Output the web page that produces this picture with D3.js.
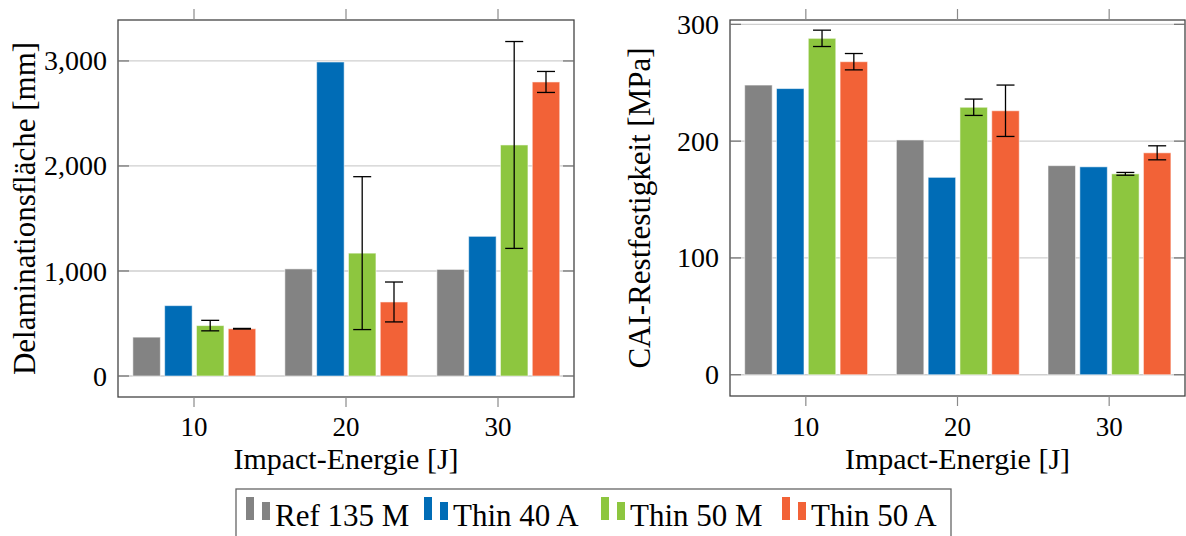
<!DOCTYPE html>
<html>
<head>
<meta charset="utf-8">
<script src="https://cdn.jsdelivr.net/npm/d3@7"></script>
<style>
  html, body { margin: 0; padding: 0; background: #fff; }
  svg { display: block; }
  text { font-family: "Liberation Serif", "DejaVu Serif", serif; fill: #000; }
</style>
</head>
<body>
<svg id="chart" width="1186" height="536"></svg>
<script>
// ---- data ----
const categories = [10, 20, 30];
const seriesNames = ["Ref 135 M", "Thin 40 A", "Thin 50 M", "Thin 50 A"];
const seriesColors = ["#838383", "#006cb6", "#8dc63f", "#f26237"];

// Delaminationsfläche [mm]
const delamRef135M  = [370, 1020, 1015];
const delamThin40A  = [670, 2990, 1330];
const delamThin50M  = [480, 1170, 2200];
const delamThin50A  = [450, 705, 2800];
const delamErrThin50M = [50, 728, 985];
const delamErrThin50A = [3, 190, 100];

// CAI-Restfestigkeit [MPa]
const caiRef135M  = [248, 201, 179];
const caiThin40A  = [245, 169, 178];
const caiThin50M  = [288, 229, 172];
const caiThin50A  = [268, 226, 190];
const caiErrThin50M = [7, 7, 1.2];
const caiErrThin50A = [7, 22, 6];

const delamTicks = [0, 1000, 2000, 3000];
const caiTicks = [0, 100, 200, 300];
const xLabel = "Impact-Energie [J]";

// ---- drawing ----
const svg = d3.select("#chart");
const fmt = d3.format(",");

function panel(opt) {
  const g = svg.append("g");
  const x = d3.scaleLinear().domain([5, 35]).range([opt.x0, opt.x1]);
  const y = d3.scaleLinear().domain(opt.yDomain).range([opt.y1, opt.y0]);
  const step = 31.8, bw = 27.5;

  // grid
  g.append("g").selectAll("line").data(opt.yTicks).join("line")
    .attr("x1", opt.x0).attr("x2", opt.x1)
    .attr("y1", d => y(d)).attr("y2", d => y(d))
    .attr("stroke", "#cfcfcf").attr("stroke-width", 1.3);

  // bars
  opt.series.forEach((vals, si) => {
    g.append("g").selectAll("rect").data(vals).join("rect")
      .attr("x", (d, i) => x(categories[i]) + (si - 1.5) * step + 0.3 - bw / 2)
      .attr("width", bw)
      .attr("y", d => y(d))
      .attr("height", d => y(0) - y(d))
      .attr("fill", seriesColors[si])
      .attr("stroke", "rgba(255,255,255,0.55)")
      .attr("stroke-width", 1);
  });

  // error bars
  opt.errors.forEach(e => {
    const si = e.series;
    const vals = opt.series[si];
    const eg = g.append("g").attr("stroke", "#000").attr("stroke-width", 1.3);
    e.err.forEach((er, i) => {
      const cx = x(categories[i]) + (si - 1.5) * step + 0.3;
      const v = vals[i];
      eg.append("line").attr("x1", cx).attr("x2", cx).attr("y1", y(v + er)).attr("y2", y(v - er));
      eg.append("line").attr("x1", cx - 9).attr("x2", cx + 9).attr("y1", y(v + er)).attr("y2", y(v + er));
      eg.append("line").attr("x1", cx - 9).attr("x2", cx + 9).attr("y1", y(v - er)).attr("y2", y(v - er));
    });
  });

  // frame
  g.append("rect")
    .attr("x", opt.x0).attr("y", opt.y0)
    .attr("width", opt.x1 - opt.x0).attr("height", opt.y1 - opt.y0)
    .attr("fill", "none").attr("stroke", "#444").attr("stroke-width", 1.3);

  // x ticks (outside, top & bottom)
  const xt = g.append("g").attr("stroke", "#8a8a8a").attr("stroke-width", 1.2);
  categories.forEach(c => {
    xt.append("line").attr("x1", x(c)).attr("x2", x(c)).attr("y1", opt.y0).attr("y2", opt.y0 - 11);
    xt.append("line").attr("x1", x(c)).attr("x2", x(c)).attr("y1", opt.y1).attr("y2", opt.y1 + 10);
  });
  // y ticks (inside, left & right)
  const yt = g.append("g").attr("stroke", "#707070").attr("stroke-width", 1.2);
  opt.yTicks.forEach(t => {
    yt.append("line").attr("x1", opt.x0).attr("x2", opt.x0 + 11).attr("y1", y(t)).attr("y2", y(t));
    yt.append("line").attr("x1", opt.x1).attr("x2", opt.x1 - 11).attr("y1", y(t)).attr("y2", y(t));
  });

  // tick labels
  g.append("g").selectAll("text").data(categories).join("text")
    .attr("x", d => x(d)).attr("y", 436)
    .attr("text-anchor", "middle").attr("font-size", 27)
    .text(d => d);
  g.append("g").selectAll("text").data(opt.yTicks).join("text")
    .attr("x", opt.x0 - 11).attr("y", d => y(d)).attr("dy", "0.34em")
    .attr("text-anchor", "end").attr("font-size", 28)
    .text(d => fmt(d));

  // axis labels
  g.append("text")
    .attr("x", (opt.x0 + opt.x1) / 2).attr("y", 469)
    .attr("text-anchor", "middle").attr("font-size", 30)
    .text(xLabel);
  g.append("text")
    .attr("transform", `translate(${opt.ylx},${(opt.y0 + opt.y1) / 2}) rotate(-90)`)
    .attr("text-anchor", "middle").attr("font-size", 31)
    .text(opt.yLabel);
}

panel({
  x0: 118, x1: 574, y0: 20, y1: 397,
  yDomain: [-200, 3390], yTicks: delamTicks,
  series: [delamRef135M, delamThin40A, delamThin50M, delamThin50A],
  errors: [{ series: 2, err: delamErrThin50M }, { series: 3, err: delamErrThin50A }],
  yLabel: "Delaminationsfläche [mm]", ylx: 35
});

panel({
  x0: 730, x1: 1185, y0: 20, y1: 396,
  yDomain: [-18.2, 303.7], yTicks: caiTicks,
  series: [caiRef135M, caiThin40A, caiThin50M, caiThin50A],
  errors: [{ series: 2, err: caiErrThin50M }, { series: 3, err: caiErrThin50A }],
  yLabel: "CAI-Restfestigkeit [MPa]", ylx: 650
});

// legend
const lg = svg.append("g");
lg.append("rect").attr("x", 236).attr("y", 489).attr("width", 715).attr("height", 60)
  .attr("fill", "#fff").attr("stroke", "#666").attr("stroke-width", 1.3);
const legendX = [246, 424, 601, 782];
seriesNames.forEach((name, i) => {
  const lx = legendX[i];
  lg.append("rect").attr("x", lx).attr("y", 497).attr("width", 8).attr("height", 23).attr("fill", seriesColors[i]);
  lg.append("rect").attr("x", lx + 16).attr("y", 502).attr("width", 8).attr("height", 18).attr("fill", seriesColors[i]);
  lg.append("text").attr("x", lx + 29).attr("y", 526).attr("font-size", 31).text(name);
});
</script>
</body>
</html>
